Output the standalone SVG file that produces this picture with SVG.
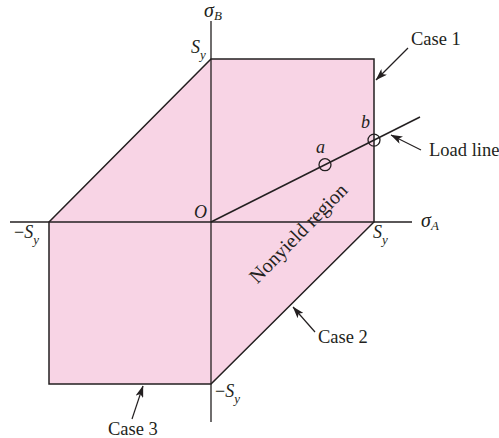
<svg xmlns="http://www.w3.org/2000/svg" width="499" height="438" viewBox="0 0 499 438">
<defs>
<style>
.lbl{font-family:"Liberation Serif","Times New Roman",serif;font-size:18.5px;fill:#231f20}
.math{font-family:"Liberation Serif","Times New Roman",serif;font-style:italic;font-size:18px;fill:#231f20}
.sig{font-size:20px}
.sub{font-size:13px}
.ax{stroke:#231f20;stroke-width:1.3;fill:none}
.edge{stroke:#231f20;stroke-width:1.5;fill:none}
.ldr{stroke:#231f20;stroke-width:1.2;fill:none;marker-end:url(#ah)}
</style>
<marker id="ah" viewBox="0 0 12 8" refX="11.5" refY="4" markerWidth="12" markerHeight="8" markerUnits="userSpaceOnUse" orient="auto">
<path d="M0,0 L12,4 L0,8 L3,4 Z" fill="#231f20"/>
</marker>
</defs>
<g id="region">
<polygon points="49,222 211,59 374,59 374,222 211,384 49,384" fill="#f8d4e5" stroke="#231f20" stroke-width="1.5"/>
<text class="lbl" style="font-size:20px" transform="translate(303,238) rotate(-45.5)" text-anchor="middle">Nonyield region</text>
</g>
<g id="axes">
<line class="ax" x1="10" y1="222" x2="412" y2="222"/>
<line class="ax" x1="211" y1="21" x2="211" y2="422"/>
<text class="math sig" x="204" y="17">σ<tspan class="sub" dx="0" dy="3">B</tspan></text>
<text class="math sig" x="421" y="227">σ<tspan class="sub" dx="0" dy="3">A</tspan></text>
<text class="math" x="194" y="218">O</text>
</g>
<g id="ticks">
<text class="math" x="191" y="53">S<tspan class="sub" dy="6">y</tspan></text>
<text class="math" x="373" y="238">S<tspan class="sub" dy="6">y</tspan></text>
<text class="math" x="14" y="238"><tspan font-style="normal">−</tspan>S<tspan class="sub" dy="6">y</tspan></text>
<text class="math" x="215" y="397"><tspan font-style="normal">−</tspan>S<tspan class="sub" dy="6">y</tspan></text>
</g>
<g id="loadline">
<line class="edge" x1="211" y1="222" x2="420" y2="117"/>
<circle cx="325" cy="164.7" r="6" fill="none" stroke="#231f20" stroke-width="1.3"/>
<circle cx="374" cy="140.1" r="6" fill="none" stroke="#231f20" stroke-width="1.3"/>
<text class="math" x="316" y="153">a</text>
<text class="math" x="361" y="128">b</text>
</g>
<g id="connectors">
<line class="ldr" x1="408" y1="48" x2="376" y2="80"/>
<line class="ldr" x1="421" y1="150" x2="391" y2="135"/>
<line class="ldr" x1="315" y1="332" x2="293" y2="307"/>
<line class="ldr" x1="132" y1="419" x2="143" y2="386"/>
</g>
<g id="labels">
<text class="lbl" x="411" y="45">Case 1</text>
<text class="lbl" x="429" y="156">Load line</text>
<text class="lbl" x="318" y="343">Case 2</text>
<text class="lbl" x="108" y="435">Case 3</text>
</g>
</svg>
